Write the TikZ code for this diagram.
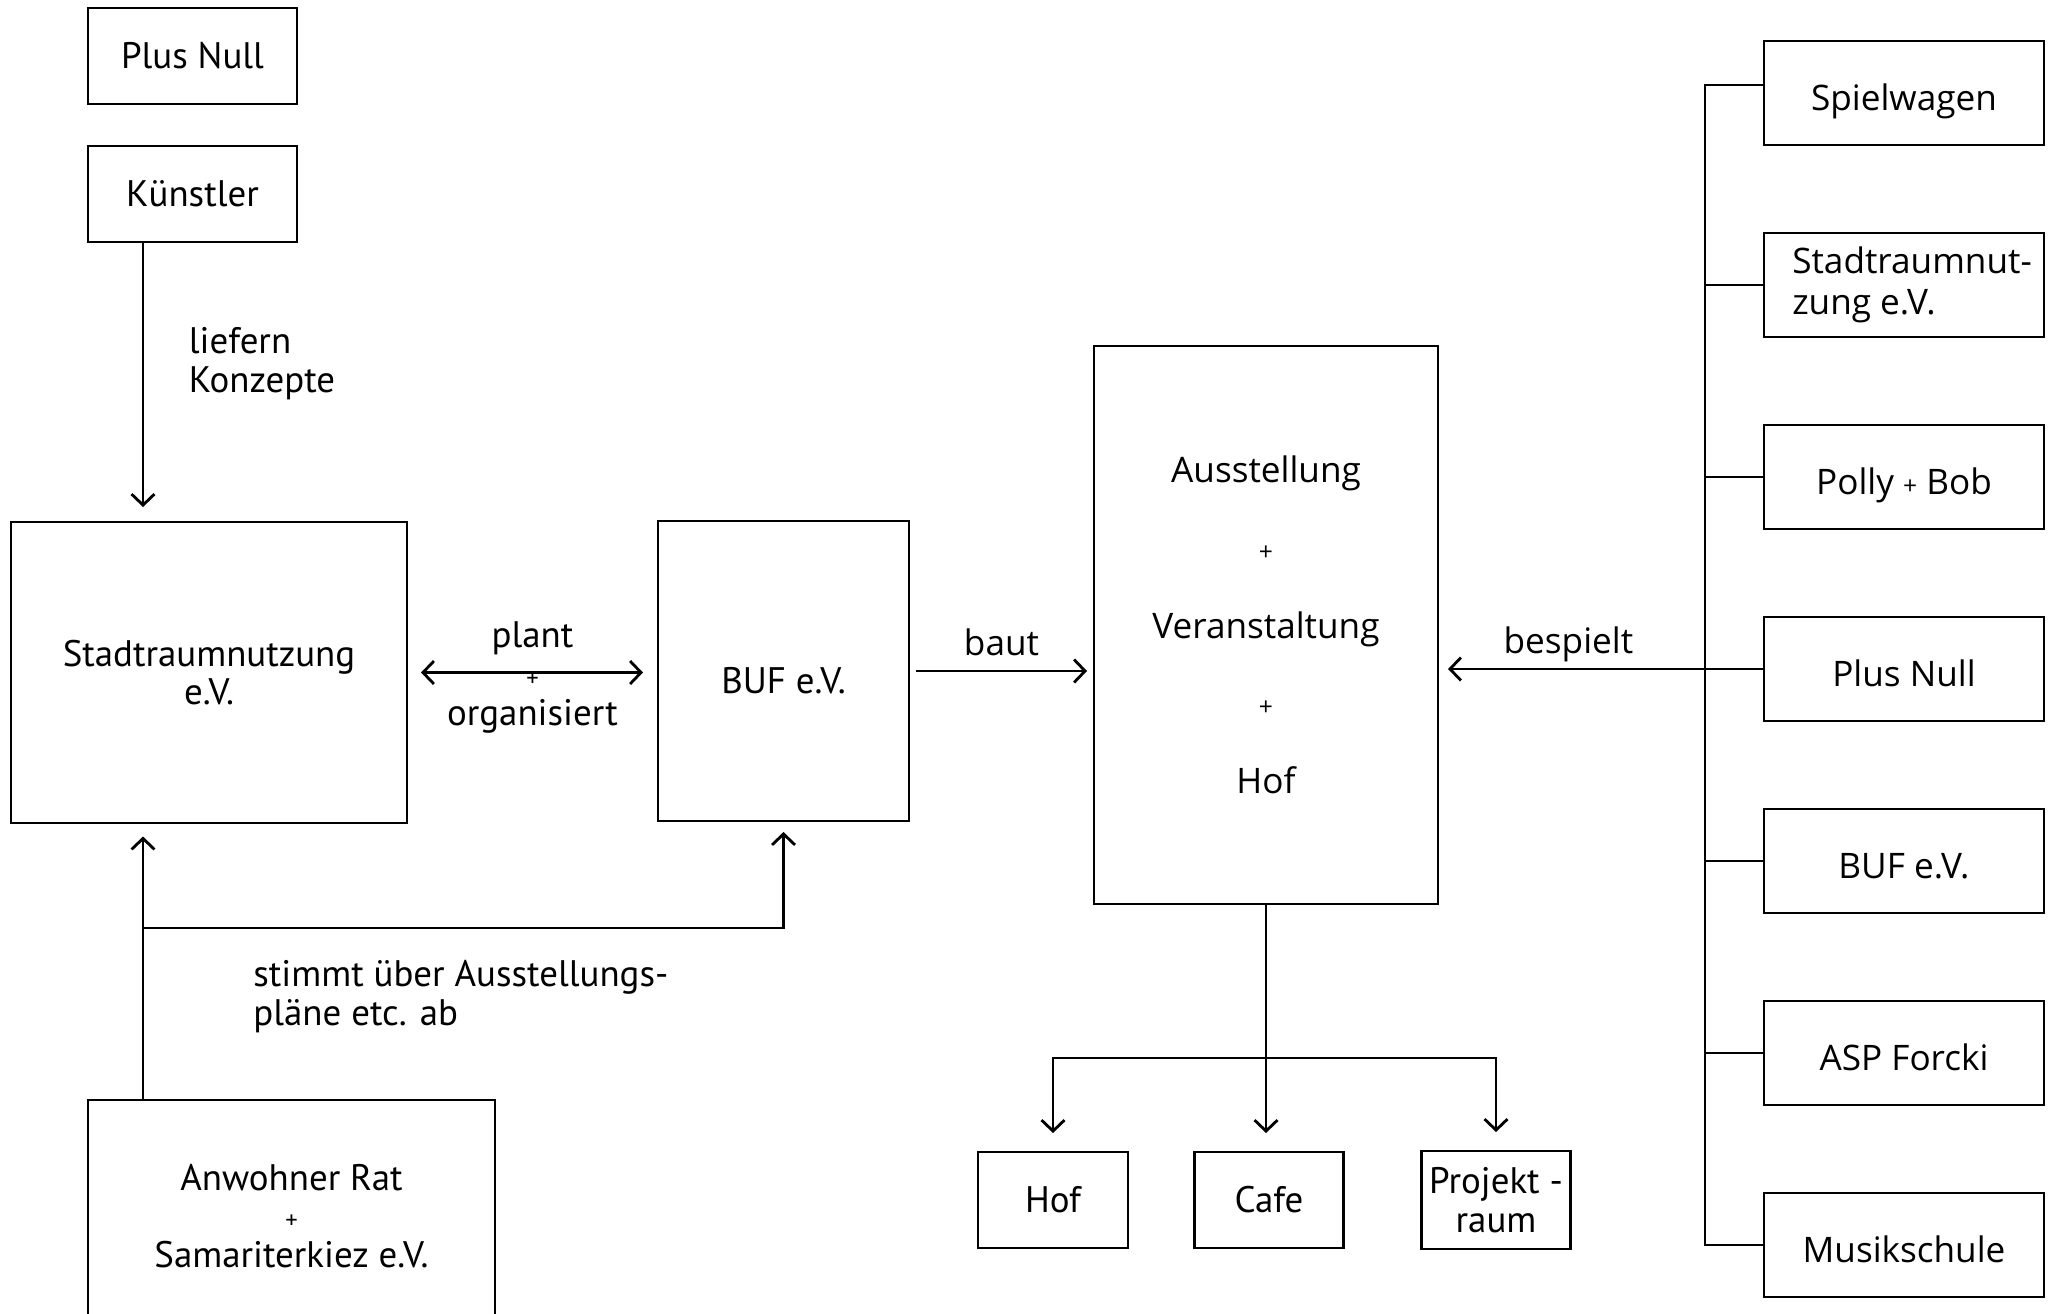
\documentclass[tikz,border=0pt]{standalone}
\usepackage{fontspec}
\setmainfont{PT Sans}
\newfontfamily\opensans{Open Sans}
\usetikzlibrary{arrows.meta, positioning, calc}
\newcommand{\plusfont}{\fontsize{7}{8}\selectfont}

\begin{document}
\begin{tikzpicture}[
    >={Straight Barb[length=1.1mm, width=2.3mm]}, % 矢印の形
    line width=0.8pt,
    % 左側の箱
    block/.style={rectangle, draw, line width=0.8pt, inner sep=1pt, outer sep=0pt, align=center, font=\fontsize{10.5}{11}\selectfont},
    % 右側の箱
    oblock/.style={block, minimum width=2.8cm, minimum height=1.04cm, font=\opensans\fontsize{10}{11.5}\selectfont},
    % 一行の文字を少し下げる
    low/.style={text height=3.4mm, text depth=0pt},
    % 矢印のラベル
    lbl/.style={inner sep=2pt, font=\fontsize{10.5}{11}\selectfont},
    olbl/.style={inner sep=0pt, anchor=base, yshift=1.6mm, font=\opensans\fontsize{10}{12}\selectfont}
]
\useasboundingbox (0,0) rectangle (20.55,-13.13);
\clip (0,0) rectangle (20.55,-13.13);
\fill [white] (0,0) rectangle (20.55,-13.13);

% 1. 左側のノード
\node [block, minimum width=2.09cm, minimum height=0.96cm] (plus_null_top) at (1.925,-0.56) {Plus Null};
\node [block, minimum width=2.09cm, minimum height=0.96cm, below=0.42cm of plus_null_top] (kuenstler) {Künstler};
\node [block, minimum width=3.96cm, minimum height=3.01cm] (stadtraum) at (2.09,-6.725) {Stadtraumnutzung\\e.V.};
\node [block, minimum width=2.51cm, minimum height=3.0cm, text height=4.4mm, text depth=0pt] (buf) at (7.835,-6.71) {BUF e.V.};
\node [block, minimum width=4.07cm, minimum height=2.32cm] (anwohner) at (2.915,-12.16) {Anwohner Rat\\{\plusfont +}\\Samariterkiez e.V.};

% 2. 中央のノード
\node [block, minimum width=3.44cm, minimum height=5.58cm, font=\opensans\fontsize{10}{22.1}\selectfont] (ausstellung) at (12.66,-6.25) {Ausstellung\\{\plusfont +}\\Veranstaltung\\{\plusfont +}\\Hof};
\node [block, minimum width=1.5cm, minimum height=0.96cm] (hof) at (10.53,-12.0) {Hof};
\node [block, minimum width=1.49cm, minimum height=0.96cm, right=0.665cm of hof] (cafe) {Cafe};
\node [block, minimum width=1.49cm, minimum height=0.98cm, right=0.78cm of cafe] (projektraum) {Projekt -\\raum};

% 3. 右側のノード
\node [oblock, low] (spielwagen) at (19.04,-0.93) {Spielwagen};
\node [oblock, align=left, below=0.88cm of spielwagen] (stadtraum_r) {\hspace*{1.6mm}Stadtraumnut-\\\hspace*{1.6mm}zung e.V.};
\node [oblock, low, below=0.88cm of stadtraum_r] (polly_bob) {Polly {\plusfont +} Bob};
\node [oblock, low, below=0.88cm of polly_bob] (plus_null_r) {Plus Null};
\node [oblock, low, below=0.88cm of plus_null_r] (buf_r) {BUF e.V.};
\node [oblock, low, below=0.88cm of buf_r] (asp_forcki) {ASP Forcki};
\node [oblock, low, below=0.88cm of asp_forcki] (musikschule) {Musikschule};

\coordinate (lx) at (1.43,0);
\coordinate (split) at (1.43,-9.28);
\coordinate (bus) at (17.05,0);
\coordinate (fork) at ($(ausstellung.south)+(0,-1.54)$);

% 4. 矢印
\draw [->, shorten >=1.5mm] (kuenstler.south -| lx) -- (stadtraum.north -| lx);
\node [lbl, align=left, anchor=west] (liefern) at (1.805,-3.635) {liefern\\Konzepte};
\draw [<->, shorten <=1.4mm, shorten >=1.5mm] (stadtraum.east) -- node[lbl, align=center, yshift=-0.5mm] {plant\\{\plusfont +}\\organisiert} (buf.west |- stadtraum.east);
\draw [->, shorten <=0.7mm, shorten >=0.7mm] (buf.east) -- node[olbl] {baut} (ausstellung.west |- buf.east);
\draw [->, shorten >=1mm] (plus_null_r.west) -- node[olbl, pos=0.6] {bespielt} (ausstellung.east |- plus_null_r.west);

% 5. 住民からの矢印
\draw [->, shorten >=1.35mm] (anwohner.north -| lx) -- (stadtraum.south -| lx);
\draw [->, shorten >=1.1mm] (split) -| (buf.south);
\node [lbl, align=left, anchor=west] (stimmt) at (2.45,-9.965) {stimmt über Ausstellungs-\\pläne etc. ab};

% 6. 下の枝分かれ
\draw (ausstellung.south) -- (fork);
\draw [->, shorten >=1.9mm] (fork) -- (fork |- cafe.north);
\draw [->, shorten >=1.9mm] (fork) -| (hof.north);
\draw [->, shorten >=1.9mm] (fork) -| (projektraum.north);

% 7. 右側の縦線
\draw ([yshift=0.8mm]spielwagen.west) -- ([yshift=0.8mm]spielwagen.west -| bus) -- (musikschule.west -| bus) -- (musikschule.west);
\draw (stadtraum_r.west) -- (stadtraum_r.west -| bus);
\draw (polly_bob.west) -- (polly_bob.west -| bus);
\draw (buf_r.west) -- (buf_r.west -| bus);
\draw (asp_forcki.west) -- (asp_forcki.west -| bus);

\end{tikzpicture}
\end{document}
